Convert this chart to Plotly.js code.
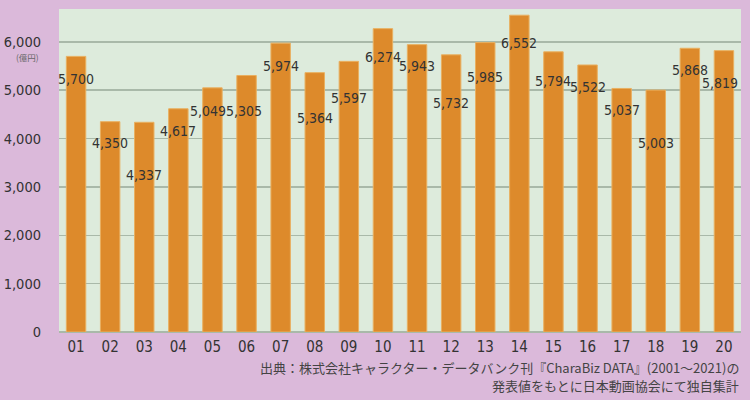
<!DOCTYPE html>
<html>
<head>
<meta charset="utf-8">
<script src="https://cdn.plot.ly/plotly-3.0.1.min.js"></script>
<style>html,body{margin:0;padding:0;background:#dbb9da;}#chart{width:750px;height:400px;}</style>
</head>
<body>
<div id="chart"></div>
<script>
const years = ['01','02','03','04','05','06','07','08','09','10','11','12','13','14','15','16','17','18','19','20'];
const values = [5700,4350,4337,4617,5049,5305,5974,5364,5597,6274,5943,5732,5985,6552,5794,5522,5037,5003,5868,5819];
const tickVals = [0,1000,2000,3000,4000,5000,6000];
const tickText = ['0','1,000','2,000','3,000','4,000','5,000','6,000'];
const unitLabel = '(億円)';
const sourceLines = ['出典：株式会社キャラクター・データバンク刊『CharaBiz DATA』(2001～2021)の', '発表値をもとに日本動画協会にて独自集計'];
// label placement (style): pixel drop below bar top, horizontal nudge
const labelDrop = [23,21,53,22,23,36,23,45,37,28,21,48,34,28,29,22,22,53,22,32];
const labelNudge = [0,0,0,0,-4,-3,0,0,0,0,0,0,0,0,0,0,0,0,0,-4];

function fmt(v){ return v.toLocaleString('en-US'); }

const font = 'DejaVu Sans Condensed, sans-serif';
const annotations = years.map((y,i)=>({
  x: i, y: values[i], xref:'x', yref:'y', text: fmt(values[i]), showarrow:false,
  yanchor:'middle', yshift: -labelDrop[i], xshift: labelNudge[i],
  font:{family:font, size:14, color:'#333333'}
}));
annotations.push({xref:'paper', yref:'y', x:0, y:6000, xshift:-19, yshift:-15, xanchor:'right', yanchor:'middle',
  text:unitLabel, showarrow:false, borderpad:0, font:{family:'Noto Sans CJK JP, sans-serif', size:8.5, color:'#666666'}});
sourceLines.forEach((line,k)=>{
  annotations.push({xref:'paper', yref:'paper', x:1, y:0, xshift:-1, yshift:-35 - 18*k, xanchor:'right', yanchor:'middle',
    text: line, showarrow:false, borderpad:0,
    font:{family:'Noto Sans CJK JP, sans-serif', size:13, color:'#444444'}});
});

const trace = {
  type:'bar', x: years, y: values,
  marker:{color:'#dd8a2b', line:{color:'#e9b060', width:1}},
  hoverinfo:'skip'
};
const layout = {
  width:750, height:400,
  margin:{l:59, r:9, t:9, b:68},
  paper_bgcolor:'#dbb9da', plot_bgcolor:'#ddebdc',
  bargap:0.43,
  showlegend:false,
  xaxis:{type:'category', range:[-0.5,19.5], showgrid:false, zeroline:false, showline:false, ticks:'',
    tickfont:{family:font, size:15, color:'#333333'}, ticklabelstandoff:4},
  yaxis:{range:[0,6680], tickvals:tickVals, ticktext:tickText, showgrid:true, gridcolor:'#a9b9a9', gridwidth:1.5,
    zeroline:true, zerolinecolor:'#a9b9a9', zerolinewidth:1.5, showline:false, ticks:'',
    tickfont:{family:font, size:14.5, color:'#333333'}, ticklabelstandoff:17},
  annotations: annotations
};
Plotly.newPlot('chart',[trace],layout,{staticPlot:true, displayModeBar:false});
</script>
</body>
</html>
